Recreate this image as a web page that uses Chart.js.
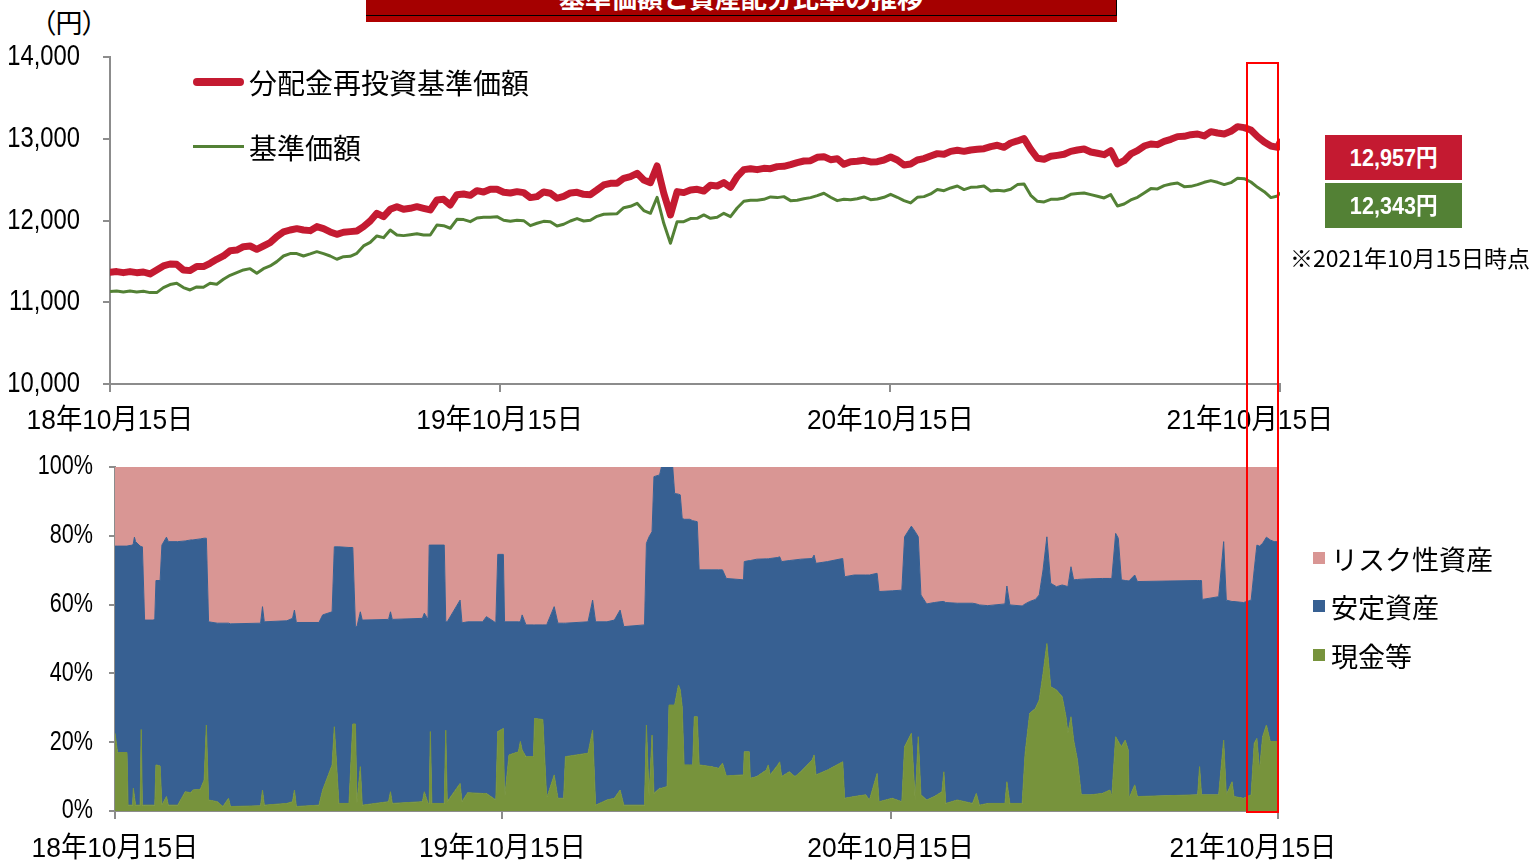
<!DOCTYPE html>
<html lang="ja">
<head>
<meta charset="utf-8">
<title>基準価額と資産配分比率の推移</title>
<script src="https://cdn.jsdelivr.net/npm/chart.js@4.4.1/dist/chart.umd.min.js"></script>
<style>
  html, body { margin: 0; padding: 0; background: #fff; }
  body {
    position: relative; width: 1531px; height: 861px; overflow: hidden; color: #000;
    font-family: 'Noto Sans CJK JP', sans-serif;
  }
  .abs { position: absolute; }
  canvas.abs { left: 0; }
  .title-bar {
    left: 366px; top: -22px; width: 750px; height: 37px; background: #A50000;
    border-right: 1px solid #000; border-bottom: 1px solid #000; box-shadow: 0 6px 0 #B00000;
    color: #fff; font: bold 26px 'Noto Sans CJK JP', sans-serif; text-align: center; line-height: 37px;
  }
  .unit { left: 42px; top: 4px; font-size: 27px; font-feature-settings: 'palt'; line-height: 36px; }
  .leg-text { font-size: 27px; line-height: 40px; white-space: nowrap; }
  .leg-top { font-size: 28px; }
  .swatch { width: 12px; height: 12px; }
  .value-box { width: 137px; height: 45px; color: #fff; line-height: 48px; text-align: center; }
  .value-box span {
    display: inline-block; transform: scaleX(0.9);
    font: bold 24px 'Liberation Sans', 'Noto Sans CJK JP', sans-serif;
  }
  .note { left: 1290px; top: 243px; font-size: 23px; line-height: 28px; white-space: nowrap; }
  .highlight { left: 1246px; top: 62px; width: 29px; height: 747px; border: 2px solid #FF0000; z-index: 5; }
</style>
</head>
<body>
<div class="abs title-bar">基準価額と資産配分比率の推移</div>
<div class="abs unit">（円）</div>

<canvas id="navChart" class="abs" width="1340" height="440" style="top:0"></canvas>
<canvas id="allocChart" class="abs" width="1340" height="421" style="top:440px"></canvas>

<!-- 上段の凡例 -->
<div class="abs" style="left:193px;top:78px;width:51px;height:8px;border-radius:4px;background:#C41A31"></div>
<div class="abs leg-text leg-top" style="left:249px;top:62px">分配金再投資基準価額</div>
<div class="abs" style="left:193px;top:145px;width:51px;height:3px;background:#538135"></div>
<div class="abs leg-text leg-top" style="left:249px;top:127px">基準価額</div>

<!-- 基準日時点の値 -->
<div class="abs value-box" style="left:1325px;top:135px;background:#C41A31"><span>12,957円</span></div>
<div class="abs value-box" style="left:1325px;top:183px;background:#538135"><span>12,343円</span></div>
<div class="abs note">※2021年10月15日時点</div>

<!-- 下段の凡例 -->
<div class="abs swatch" style="left:1313px;top:552px;background:#D99694"></div>
<div class="abs leg-text" style="left:1331px;top:539px">リスク性資産</div>
<div class="abs swatch" style="left:1313px;top:600px;background:#376092"></div>
<div class="abs leg-text" style="left:1331px;top:587px">安定資産</div>
<div class="abs swatch" style="left:1313px;top:649px;background:#77933C"></div>
<div class="abs leg-text" style="left:1331px;top:636px">現金等</div>

<div class="abs highlight"></div>

<script>
// --- 基準価額（円）: 6.25日おきに読み取り、最後の点は2021/10/15 ---
const reinvestNav = [
  11366, 11375, 11362, 11375, 11362, 11370, 11346, 11395, 11444, 11468,
  11464, 11395, 11387, 11436, 11436, 11477, 11525, 11566, 11631, 11639,
  11680, 11688, 11648, 11688, 11729, 11803, 11860, 11884, 11900, 11884,
  11876, 11925, 11900, 11860, 11831, 11856, 11864, 11872, 11925, 11994,
  12088, 12047, 12137, 12169, 12137, 12149, 12169, 12149, 12129, 12251,
  12259, 12190, 12316, 12324, 12308, 12365, 12349, 12382, 12382,
  12345, 12337, 12353, 12341, 12280, 12292, 12349, 12333, 12272, 12296,
  12337, 12345, 12320, 12316, 12374, 12435, 12455, 12455, 12516, 12537,
  12577, 12496, 12463, 12667, 12333, 12068, 12353, 12341, 12374, 12382,
  12361, 12431, 12422, 12463, 12406, 12537, 12622, 12634, 12622, 12638,
  12634, 12659, 12663, 12683, 12708, 12728, 12732, 12773, 12781, 12744,
  12756, 12687, 12720, 12724, 12736, 12716, 12720, 12740,
  12777, 12740, 12679, 12692, 12740, 12757, 12789, 12818, 12810, 12846,
  12859, 12846, 12863, 12871, 12879, 12903, 12920, 12895, 12948, 12973,
  13001, 12871, 12761, 12749, 12785, 12797, 12810, 12846, 12863, 12875,
  12838, 12822, 12805, 12854, 12692, 12732, 12814, 12854, 12911, 12936,
  12928, 12968, 12993, 13026, 13030, 13050, 13058, 13034, 13087, 13070,
  13058, 13091, 13148, 13136, 13107, 13026, 12960, 12911, 12895,
  12957
];
const nav = [
  11130, 11138, 11126, 11138, 11126, 11134, 11118, 11118, 11179, 11216,
  11232, 11179, 11150, 11187, 11183, 11232, 11220, 11281, 11330, 11362,
  11395, 11411, 11354, 11411, 11444, 11497, 11566, 11595, 11595, 11566,
  11591, 11619, 11595, 11566, 11526, 11558, 11562, 11599, 11689, 11733,
  11811, 11790, 11884, 11823, 11815, 11827, 11839, 11823, 11823, 11945,
  11937, 11905, 12015, 12011, 11986, 12031, 12039, 12039, 12047,
  12003, 11990, 12003, 11998, 11937, 11966, 11990, 11986, 11933, 11954,
  11994, 12023, 11994, 12003, 12051, 12076, 12080, 12084, 12157, 12174,
  12210, 12121, 12088, 12284, 11966, 11721, 11986, 11986, 12023, 12027,
  12068, 12027, 12039, 12088, 12047, 12153, 12235, 12247, 12247, 12259,
  12288, 12280, 12292, 12243, 12247, 12267, 12280, 12304, 12333, 12284,
  12243, 12259, 12255, 12267, 12288, 12255, 12263, 12284,
  12320, 12284, 12243, 12215, 12284, 12292, 12325, 12378, 12365, 12398,
  12422, 12378, 12406, 12410, 12422, 12361, 12369, 12361, 12382, 12439,
  12447, 12308, 12235, 12227, 12259, 12259, 12276, 12320, 12329, 12337,
  12316, 12296, 12276, 12316, 12178, 12202, 12251, 12284, 12337, 12390,
  12386, 12427, 12447, 12459, 12414, 12418, 12439, 12467, 12488, 12467,
  12439, 12463, 12516, 12512, 12471, 12406, 12353, 12280, 12300,
  12343
];
const SAMPLE_STEP = 6.25;   // 日
const LAST_DAY = 1096;      // 2018/10/15 からの日数 = 2021/10/15
const priceDays = reinvestNav.map((_, i) => Math.min(i * SAMPLE_STEP, LAST_DAY));

// x軸の目盛り（2018/10/15 からの日数）
const tickDays = [0, 365, 731, 1096];
const tickLabels = ['18年10月15日', '19年10月15日', '20年10月15日', '21年10月15日'];

// --- 資産配分比率（%）: 変化点ごとに読み取り ---
const allocDays = [
  0, 2.4, 11.3, 12.3, 16.6, 17.3, 18.3, 19.4, 23.7, 24.7,
  25.8, 27.9, 36.4, 37.5, 38.6, 42.5, 44.2, 48.5, 50.3, 59.1,
  66.2, 71.6, 73.3, 80.4, 84.0, 86.1, 88.2, 96.4, 101.7, 107.0,
  108.8, 137.2, 139.0, 140.7, 162.0, 167.3, 169.1, 170.9, 192.2, 195.7,
  204.6, 206.7, 211.0, 220.5, 224.1, 226.6, 228.0, 231.2, 233.0, 257.8,
  259.6, 261.3, 289.7, 291.5, 295.0, 296.1, 297.2, 298.6, 310.3, 311.7,
  313.1, 325.2, 327.0, 332.3, 346.5, 350.0, 358.9, 360.7, 366.0, 367.1,
  371.3, 380.2, 382.0, 383.7, 387.3, 394.4, 395.4, 403.2, 406.8, 413.9,
  417.4, 422.8, 424.5, 445.8, 450.1, 452.9, 463.6, 470.6, 476.0, 479.5,
  499.0, 500.8, 503.3, 506.1, 507.9, 513.2, 515.0, 520.3, 522.1, 525.6,
  527.4, 531.0, 532.7, 534.5, 536.3, 541.6, 544.4, 545.9, 548.7, 550.5,
  561.7, 568.9, 572.5, 576.1, 592.3, 593.0, 597.7, 598.7, 604.8, 613.8,
  615.6, 617.4, 624.6, 626.4, 628.2, 635.4, 640.8, 646.2, 657.0, 658.8,
  660.6, 671.4, 685.8, 687.6, 696.6, 707.4, 711.0, 718.2, 720.0, 732.5,
  741.5, 744.1, 750.5, 754.1, 757.0, 759.5, 764.9, 772.1, 779.3, 781.1,
  782.9, 793.7, 808.1, 811.7, 814.6, 822.5, 838.7, 840.5, 843.3, 854.9,
  857.7, 862.0, 867.4, 871.0, 874.6, 878.2, 881.8, 887.2, 892.6, 896.2,
  898.0, 900.9, 903.4, 907.0, 910.6, 919.6, 930.4, 937.6, 939.4, 943.0,
  945.5, 948.4, 952.0, 954.9, 955.6, 961.0, 963.5, 1020.3, 1022.1, 1023.9,
  1024.6, 1040.1, 1044.8, 1047.3, 1052.7, 1054.5, 1063.5, 1070.7, 1073.6, 1076.1,
  1078.6, 1081.5, 1085.1, 1088.7, 1092.3, 1096
];
const cashPct = [
  22.6, 17.0, 17.0, 1.7, 1.7, 6.6, 4.2, 1.7, 1.7, 23.7,
  1.7, 1.7, 1.7, 1.7, 13.4, 13.1, 1.7, 4.2, 1.7, 1.7,
  5.6, 5.3, 6.1, 6.3, 9.0, 25.0, 3.2, 2.7, 1.3, 3.7,
  1.3, 1.5, 6.1, 1.7, 2.2, 2.7, 6.1, 1.3, 1.7, 6.1,
  13.4, 24.5, 2.2, 2.2, 25.3, 25.3, 2.2, 12.9, 1.7, 2.7,
  5.6, 2.2, 2.7, 5.6, 2.2, 2.2, 23.1, 2.2, 2.2, 23.5,
  2.7, 8.0, 2.7, 5.3, 5.1, 5.1, 3.2, 23.1, 24.0, 3.2,
  16.3, 17.2, 20.2, 17.7, 15.8, 15.8, 26.9, 26.6, 3.7, 10.5,
  3.7, 3.7, 15.8, 16.8, 23.5, 1.7, 3.2, 3.7, 6.1, 1.7,
  1.7, 25.0, 4.2, 22.1, 5.1, 6.6, 6.6, 7.1, 30.8, 30.8,
  30.8, 36.6, 35.2, 30.3, 13.4, 13.4, 13.4, 27.4, 27.4, 13.4,
  12.9, 12.4, 13.9, 10.2, 10.5, 17.2, 17.2, 9.5, 10.0, 11.9,
  13.4, 10.5, 13.4, 14.3, 10.0, 11.4, 10.0, 11.4, 14.8, 16.3,
  10.5, 11.9, 14.3, 3.7, 4.2, 4.7, 3.2, 10.9, 2.7, 3.7,
  2.7, 18.7, 22.6, 3.2, 21.6, 4.7, 3.2, 4.2, 5.6, 11.4,
  2.2, 3.2, 2.2, 5.1, 1.7, 2.2, 2.2, 8.5, 2.2, 2.2,
  16.8, 28.4, 29.8, 32.3, 40.0, 48.7, 36.1, 35.2, 33.2, 27.4,
  22.6, 27.4, 20.6, 14.8, 4.7, 4.7, 5.1, 6.1, 4.2, 21.6,
  20.2, 18.7, 20.6, 17.7, 3.7, 7.6, 4.2, 4.7, 12.9, 4.7,
  4.7, 4.7, 20.6, 4.7, 8.5, 4.2, 3.7, 4.7, 19.7, 21.1,
  11.9, 21.6, 25.0, 20.2, 20.2, 20.2
];
const stablePct = [
  54.4, 60.0, 60.0, 75.4, 75.6, 71.2, 75.4, 76.6, 75.3, 53.2,
  75.1, 53.8, 53.8, 54.3, 53.6, 53.9, 75.6, 75.4, 76.6, 76.6,
  72.9, 73.5, 72.7, 72.8, 70.3, 54.3, 51.8, 51.9, 53.3, 50.9,
  53.1, 53.1, 53.3, 53.3, 53.1, 53.3, 52.3, 53.5, 53.1, 50.9,
  44.5, 52.3, 74.6, 74.4, 51.3, 28.3, 51.4, 45.0, 53.8, 53.0,
  52.3, 53.5, 53.3, 51.9, 53.5, 75.1, 54.2, 75.1, 75.1, 31.5,
  52.3, 53.3, 52.0, 49.7, 49.9, 51.4, 51.5, 51.5, 50.6, 51.8,
  38.7, 37.8, 34.8, 39.3, 38.3, 38.3, 27.2, 27.5, 50.4, 48.9,
  50.9, 50.9, 38.8, 38.2, 37.8, 53.3, 51.8, 51.8, 52.3, 51.9,
  52.4, 52.8, 75.5, 59.1, 92.1, 91.1, 93.4, 92.9, 69.2, 69.2,
  61.5, 55.5, 56.7, 54.8, 71.4, 71.4, 71.0, 56.9, 56.7, 56.7,
  57.2, 57.7, 56.2, 57.4, 56.7, 55.3, 55.6, 63.3, 63.2, 61.4,
  59.9, 62.9, 60.3, 59.6, 62.5, 61.4, 63.0, 61.8, 58.6, 58.1,
  61.5, 60.6, 59.1, 64.4, 64.4, 63.9, 65.4, 58.2, 61.1, 60.3,
  61.5, 61.0, 60.2, 78.0, 58.1, 58.1, 57.0, 56.4, 55.3, 49.5,
  58.4, 57.2, 58.2, 55.1, 58.2, 57.5, 58.0, 56.9, 57.7, 57.4,
  43.4, 32.5, 31.7, 30.5, 30.1, 31.0, 30.1, 30.0, 32.5, 38.0,
  42.6, 43.6, 46.6, 52.5, 62.7, 62.8, 62.5, 61.5, 63.4, 59.1,
  59.1, 48.5, 46.4, 49.2, 63.2, 61.0, 62.5, 62.3, 54.1, 62.3,
  56.8, 57.6, 57.7, 56.6, 52.4, 56.7, 56.9, 56.6, 50.4, 56.2,
  65.1, 56.2, 54.6, 58.6, 58.1, 58.1
];
const riskPct = [
  23.0, 23.0, 23.0, 22.9, 22.7, 22.2, 20.4, 21.7, 23.0, 23.1,
  23.2, 44.5, 44.5, 44.0, 33.0, 33.0, 22.7, 20.4, 21.7, 21.7,
  21.5, 21.2, 21.2, 20.9, 20.7, 20.7, 45.0, 45.4, 45.4, 45.4,
  45.6, 45.4, 40.6, 45.0, 44.7, 44.0, 41.6, 45.2, 45.2, 43.0,
  42.1, 23.2, 23.2, 23.4, 23.4, 46.4, 46.4, 42.1, 44.5, 44.3,
  42.1, 44.3, 44.0, 42.5, 44.3, 22.7, 22.7, 22.7, 22.7, 45.0,
  45.0, 38.7, 45.3, 45.0, 45.0, 43.5, 45.3, 25.4, 25.4, 45.0,
  45.0, 45.0, 45.0, 43.0, 45.9, 45.9, 45.9, 45.9, 45.9, 40.6,
  45.4, 45.4, 45.4, 45.0, 38.7, 45.0, 45.0, 44.5, 41.6, 46.4,
  45.9, 22.2, 20.3, 18.8, 2.8, 2.3, 0, 0, 0, 0,
  7.7, 7.9, 8.1, 14.9, 15.2, 15.2, 15.6, 15.7, 15.9, 29.9,
  29.9, 29.9, 29.9, 32.4, 32.8, 27.5, 27.2, 27.2, 26.8, 26.7,
  26.7, 26.6, 26.3, 26.1, 27.5, 27.2, 27.0, 26.8, 26.6, 25.6,
  28.0, 27.5, 26.6, 31.9, 31.4, 31.4, 31.4, 30.9, 36.2, 36.0,
  35.8, 20.3, 17.2, 18.8, 20.3, 37.2, 39.8, 39.4, 39.1, 39.1,
  39.4, 39.6, 39.6, 39.8, 40.1, 40.3, 39.8, 34.6, 40.1, 40.4,
  39.8, 39.1, 38.5, 37.2, 29.9, 20.3, 33.8, 34.8, 34.3, 34.6,
  34.8, 29.0, 32.8, 32.7, 32.6, 32.5, 32.4, 32.4, 32.4, 19.3,
  20.7, 32.8, 33.0, 33.1, 33.1, 31.4, 33.3, 33.0, 33.0, 33.0,
  38.5, 37.7, 21.7, 38.7, 39.1, 39.1, 39.4, 38.7, 29.9, 22.7,
  23.0, 22.2, 20.4, 21.2, 21.7, 21.7
];

const RED = '#C41A31';
const GREEN = '#538135';
const AXIS = '#8C8C8C';
const LABEL_FONT = "'Liberation Sans', 'Noto Sans CJK JP', sans-serif";

Chart.defaults.font.family = LABEL_FONT;
Chart.defaults.color = '#000';

const toPoints = (xs, ys) => ys.map((y, i) => ({ x: xs[i], y: y }));

// 横に詰めた文字を描く（元の図の細い数字に合わせるため）
function drawNarrow(ctx, text, x, y, sx) {
  ctx.save();
  ctx.translate(x, y);
  ctx.scale(sx, 1);
  ctx.fillText(text, 0, 0);
  ctx.restore();
}

// 軸ラベルは自前で描く（最後の日付だけ左に寄っている）
const axisTextPlugin = {
  id: 'axisText',
  afterDraw(chart, args, opts) {
    const ctx = chart.ctx;
    const xScale = chart.scales.x;
    const yScale = chart.scales.y;
    ctx.save();
    ctx.fillStyle = '#000';
    ctx.textBaseline = 'middle';

    ctx.font = opts.yFont;
    ctx.textAlign = 'right';
    yScale.ticks.forEach(t => {
      drawNarrow(ctx, opts.yFormat(t.value), opts.yRight, yScale.getPixelForValue(t.value), opts.yScaleX);
    });

    ctx.font = opts.xFont;
    ctx.textAlign = 'center';
    tickDays.forEach((d, i) => {
      const shift = i === tickDays.length - 1 ? opts.lastShift : 0;
      drawNarrow(ctx, tickLabels[i], xScale.getPixelForValue(d) + shift,
                 chart.chartArea.bottom + opts.xOffset, opts.xScaleX);
    });
    ctx.restore();
  }
};

function xAxis(height) {
  return {
    type: 'linear', min: 0, max: LAST_DAY,
    afterBuildTicks: s => { s.ticks = tickDays.map(v => ({ value: v })); },
    afterFit: s => { s.height = height; },
    ticks: { display: false },
    grid: { drawOnChartArea: false, drawTicks: true, tickLength: 8, color: AXIS, lineWidth: 2 },
    border: { color: AXIS, width: 2 }
  };
}

// --- 上段: 基準価額 ---
new Chart(document.getElementById('navChart'), {
  type: 'line',
  data: {
    datasets: [
      {
        label: '分配金再投資基準価額', data: toPoints(priceDays, reinvestNav),
        borderColor: RED, borderWidth: 7, borderCapStyle: 'round', borderJoinStyle: 'round'
      },
      {
        label: '基準価額', data: toPoints(priceDays, nav),
        borderColor: GREEN, borderWidth: 3, borderJoinStyle: 'round'
      }
    ]
  },
  options: {
    responsive: false, animation: false, events: [],
    elements: { point: { radius: 0 }, line: { tension: 0 } },
    layout: { padding: { top: 57, right: 60, left: 0, bottom: 0 } },
    scales: {
      x: xAxis(56),
      y: {
        min: 10000, max: 14000,
        afterFit: s => { s.width = 110; },
        ticks: { stepSize: 1000, display: false },
        grid: { drawOnChartArea: false, drawTicks: true, tickLength: 7, color: AXIS, lineWidth: 2 },
        border: { color: AXIS, width: 2 }
      }
    },
    plugins: {
      legend: { display: false }, tooltip: { enabled: false },
      axisText: {
        yFont: '29px ' + LABEL_FONT, yRight: 80, yScaleX: 0.82, yFormat: v => v.toLocaleString('en-US'),
        xFont: '28px ' + LABEL_FONT, xOffset: 37, xScaleX: 0.94, lastShift: -30
      }
    }
  },
  plugins: [axisTextPlugin]
});

// --- 下段: 資産配分比率 ---
new Chart(document.getElementById('allocChart'), {
  type: 'line',
  data: {
    datasets: [
      { label: '現金等', data: toPoints(allocDays, cashPct), backgroundColor: '#77933C', borderColor: '#77933C', fill: 'origin' },
      { label: '安定資産', data: toPoints(allocDays, stablePct), backgroundColor: '#376092', borderColor: '#376092', fill: '-1' },
      { label: 'リスク性資産', data: toPoints(allocDays, riskPct), backgroundColor: '#D99694', borderColor: '#D99694', fill: '-1' }
    ]
  },
  options: {
    responsive: false, animation: false, events: [],
    elements: { point: { radius: 0 }, line: { tension: 0, borderWidth: 1 } },
    layout: { padding: { top: 27, right: 62, left: 0, bottom: 0 } },
    scales: {
      x: xAxis(50),
      y: {
        stacked: true, min: 0, max: 100,
        afterFit: s => { s.width = 115; },
        ticks: { stepSize: 20, display: false },
        grid: { drawOnChartArea: false, drawTicks: true, tickLength: 6, color: AXIS, lineWidth: 2 },
        border: { color: AXIS, width: 2 }
      }
    },
    plugins: {
      legend: { display: false }, tooltip: { enabled: false },
      filler: { propagate: false },
      axisText: {
        yFont: '27px ' + LABEL_FONT, yRight: 93, yScaleX: 0.8, yFormat: v => v + '%',
        xFont: '28px ' + LABEL_FONT, xOffset: 38, xScaleX: 0.94, lastShift: -25
      }
    }
  },
  plugins: [axisTextPlugin]
});
</script>
</body>
</html>
